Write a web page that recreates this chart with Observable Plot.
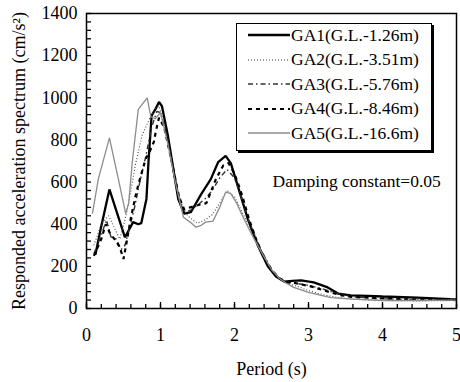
<!DOCTYPE html>
<html><head><meta charset="utf-8">
<script src="https://cdn.jsdelivr.net/npm/d3@7"></script>
<script src="https://cdn.jsdelivr.net/npm/@observablehq/plot@0.6"></script>
<style>
body{margin:0;background:#fff;}
#wrap{position:relative;width:460px;height:382px;font-family:"Liberation Serif","Times New Roman",serif;}
#wrap svg, #wrap svg text{font-family:"Liberation Serif","Times New Roman",serif !important;}
#legend{position:absolute;left:236px;top:23px;width:196px;height:128px;border:1.3px solid #000;box-shadow:2px 2px 0 #000;background:#fff;box-sizing:border-box;}
.row{position:absolute;left:0;height:20px;display:flex;align-items:center;font-size:17.5px;white-space:nowrap;color:#000;}
.row svg{margin-left:11px;margin-right:1px;}
</style></head>
<body><div id="wrap"></div>
<script>
const seriesNames = ["GA1(G.L.-1.26m)","GA2(G.L.-3.51m)","GA3(G.L.-5.76m)","GA4(G.L.-8.46m)","GA5(G.L.-16.6m)"];

const ga1Period = [0.12,0.19,0.25,0.31,0.42,0.52,0.58,0.63,0.7,0.74,0.81,0.84,0.88,0.93,0.98,1.02,1.1,1.24,1.32,1.41,1.55,1.68,1.78,1.88,1.95,2.05,2.18,2.32,2.45,2.56,2.67,2.78,2.9,3.07,3.26,3.4,3.57,3.8,4.0,4.47,4.92,5.0];
const ga1Accel  = [255,375,470,565,446,338,377,410,400,405,520,710,915,945,980,960,820,519,450,457,543,614,695,724,690,575,424,295,200,152,128,131,133,124,100,71,62,60,57,52,44,43];

const ga2Period = [0.1,0.2,0.3,0.38,0.45,0.52,0.58,0.66,0.75,0.85,0.93,0.98,1.05,1.15,1.25,1.32,1.4,1.5,1.6,1.7,1.8,1.9,2.0,2.1,2.25,2.4,2.5,2.6,2.7,2.85,3.0,3.2,3.4,3.6,4.0,4.5,5.0];
const ga2Accel  = [300,400,440,380,330,420,520,680,820,900,950,960,880,710,540,460,430,405,420,445,500,560,530,460,350,250,185,145,120,105,85,65,52,44,38,36,38];

const ga3Period = [0.1,0.2,0.27,0.33,0.4,0.47,0.52,0.58,0.65,0.72,0.8,0.88,0.95,1.0,1.1,1.2,1.3,1.4,1.5,1.6,1.7,1.8,1.9,2.0,2.1,2.2,2.35,2.5,2.6,2.7,2.85,3.0,3.2,3.4,3.6,4.0,4.5,5.0];
const ga3Accel  = [260,350,420,340,330,280,300,380,480,600,720,860,935,930,800,600,460,465,490,520,560,620,660,620,520,410,285,185,145,125,118,110,92,70,55,46,40,39];

const ga4Period = [0.1,0.2,0.26,0.32,0.4,0.45,0.5,0.55,0.6,0.67,0.71,0.76,0.8,0.86,0.91,0.94,0.98,1.05,1.15,1.25,1.32,1.4,1.5,1.62,1.75,1.85,1.92,2.0,2.1,2.2,2.3,2.4,2.5,2.6,2.7,2.83,3.03,3.17,3.3,3.45,3.6,4.0,4.5,5.0];
const ga4Accel  = [250,330,400,355,320,290,235,330,430,545,600,662,710,750,790,845,905,860,700,530,470,480,490,500,615,680,690,640,540,420,320,240,185,145,125,120,105,90,76,62,55,48,42,40];

const ga5Period = [0.08,0.16,0.31,0.43,0.53,0.57,0.62,0.7,0.82,0.87,0.93,1.0,1.1,1.2,1.31,1.4,1.48,1.55,1.61,1.71,1.8,1.88,1.95,2.03,2.11,2.25,2.4,2.5,2.6,2.7,2.8,3.0,3.3,3.66,4.0,4.5,5.0];
const ga5Accel  = [450,615,810,615,450,500,700,945,1000,910,900,930,780,600,433,410,386,395,410,415,480,552,545,500,438,340,245,185,145,120,100,76,52,43,38,38,40];

const xTicks = [0,1,2,3,4,5];
const yTicks = [0,200,400,600,800,1000,1200,1400];
const xLabel = "Period (s)";
const yLabel = "Responded acceleration spectrum (cm/s²)";
const note = "Damping constant=0.05";

const periods = [ga1Period, ga2Period, ga3Period, ga4Period, ga5Period];
const accels = [ga1Accel, ga2Accel, ga3Accel, ga4Accel, ga5Accel];

const styles = [
  {stroke:"#000", strokeWidth:2.3, dash:null},
  {stroke:"#444", strokeWidth:1.1, dash:"1,2"},
  {stroke:"#333", strokeWidth:1.4, dash:"5,3,1.5,3"},
  {stroke:"#000", strokeWidth:2.2, dash:"4,4"},
  {stroke:"#8c8c8c", strokeWidth:1.3, dash:null}
];

const data = seriesNames.map((name, i) => periods[i].map((T, j) => ({series: name, T, A: accels[i][j]})));

const yMinor = d3.range(0, 1401, 40);
const xMinor = d3.range(0, 26).map(i => i / 5);

const lines = data.map((rows, i) => Plot.line(rows, {
  x: "T", y: "A", stroke: styles[i].stroke, strokeWidth: styles[i].strokeWidth,
  strokeDasharray: styles[i].dash || undefined, strokeLinejoin: "miter", strokeLinecap: "butt"
}));

const chart = Plot.plot({
  width: 460, height: 382,
  marginLeft: 86, marginRight: 4, marginTop: 13, marginBottom: 74,
  style: {fontFamily: "Liberation Serif", fontSize: "17px", background: "white", color: "#000"},
  x: {domain: [0, 5]},
  y: {domain: [0, 1400]},
  marks: [
    ...lines,
    Plot.frame({stroke: "#000", strokeWidth: 1.5}),
    Plot.axisY(yMinor, {tickSize: 5, dx: 5, text: null, label: null, strokeWidth: 1.3}),
    Plot.axisX(xMinor, {tickSize: 4, dy: -4, text: null, label: null, strokeWidth: 1.3}),
    Plot.axisX(xTicks, {tickSize: 6, dy: -6, text: null, label: null, strokeWidth: 1.3}),
    Plot.axisY(yTicks, {tickSize: 0, tickPadding: 9, fontSize: 18, tickFormat: d => String(d), label: yLabel, labelAnchor: "center", labelOffset: 74, labelArrow: "none"}),
    Plot.axisX(xTicks, {tickSize: 0, tickPadding: 20, fontSize: 18, tickFormat: d => String(d), label: xLabel, labelAnchor: "center", labelOffset: 66, labelArrow: "none"}),
    Plot.text([note], {frameAnchor: "top-left", dx: 186, dy: 168, textAnchor: "start", lineAnchor: "middle", fontSize: 17.5, fill: "#000"})
  ]
});

const wrap = document.getElementById("wrap");
wrap.appendChild(chart);

const legend = document.createElement("div");
legend.id = "legend";
wrap.appendChild(legend);
const rowTops = [0, 1, 2, 3, 4];
seriesNames.forEach((name, i) => {
  const row = document.createElement("div");
  row.className = "row";
  row.style.top = (1 + rowTops[i] * 24.5) + "px";
  const s = styles[i];
  row.innerHTML = `<svg width="42" height="10"><line x1="0" y1="5" x2="42" y2="5" stroke="${s.stroke}" stroke-width="${s.strokeWidth}" ${s.dash ? `stroke-dasharray="${s.dash}"` : ""}/></svg><span>${name}</span>`;
  legend.appendChild(row);
});
</script>
</body></html>
